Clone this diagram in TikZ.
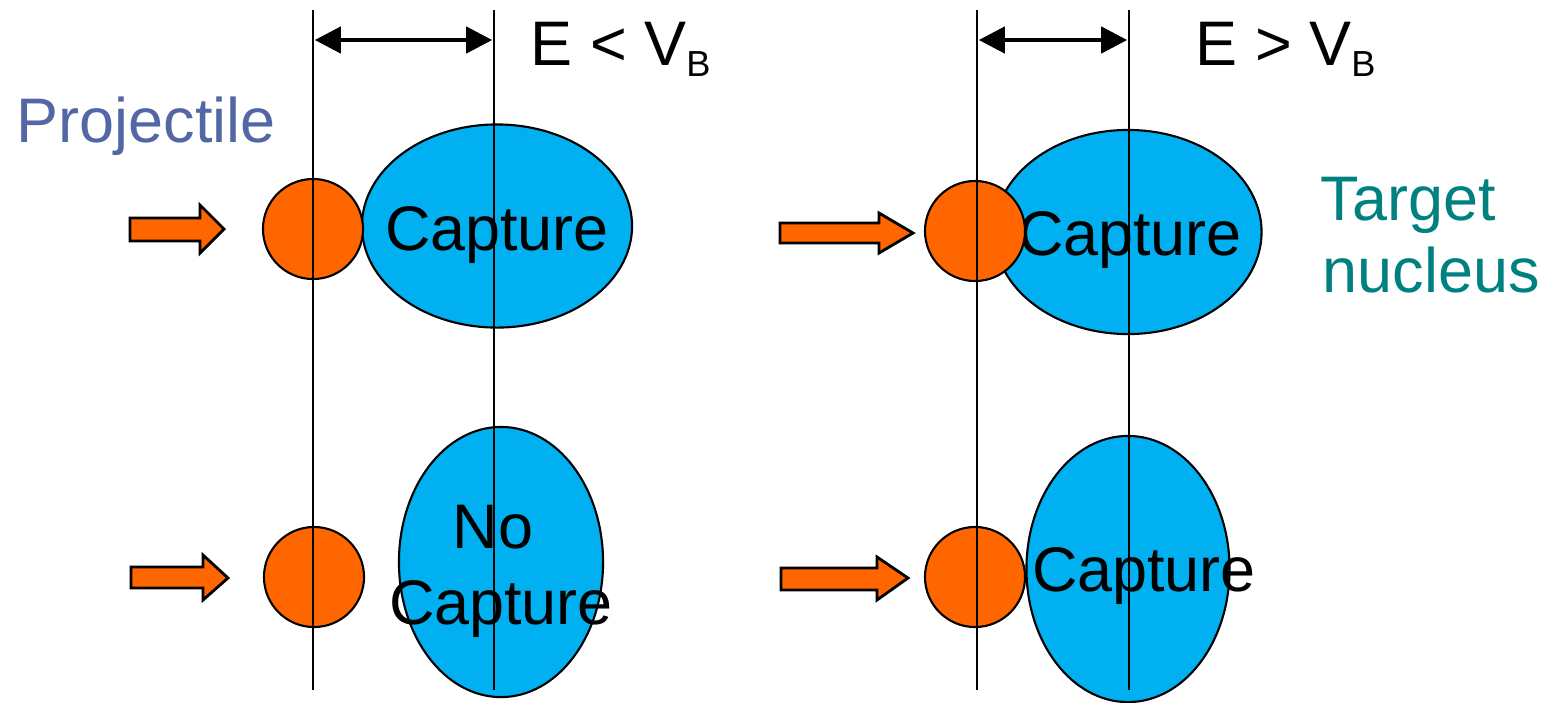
\documentclass[tikz,border=0pt]{standalone}
\usepackage{fontspec}
\setmainfont{Liberation Sans}
\usetikzlibrary{shapes.geometric,arrows.meta}
\definecolor{orng}{RGB}{255,102,0}
\definecolor{cyanb}{RGB}{0,176,240}
\definecolor{projcol}{RGB}{83,102,166}
\definecolor{tealc}{RGB}{0,128,128}
\tikzset{
  proj/.style={circle,draw=black,line width=0.6pt,fill=orng,minimum size=1.0cm,inner sep=0pt},
  nuc/.style={ellipse,draw=black,line width=0.6pt,fill=cyanb,inner sep=0pt},
  blockarrow/.style={draw=black,line width=0.8pt,fill=orng,line join=miter},
  vline/.style={draw=black,line width=0.6pt},
  dimarrow/.style={draw=black,line width=1.2pt,{Triangle[length=0.26cm,width=0.26cm]}-{Triangle[length=0.26cm,width=0.26cm]},shorten <=0.5pt,shorten >=0.5pt},
  lbl/.style={inner sep=0pt,anchor=base,font=\fontsize{17.9}{21.5}\selectfont},
  lblw/.style={inner sep=0pt,anchor=base west,font=\fontsize{17.9}{21.5}\selectfont}
}
\begin{document}
\begin{tikzpicture}[x=0.01cm,y=-0.01cm]
\useasboundingbox (0,0) rectangle (1546,702);
% nuclei
\node[nuc,minimum width=2.70cm,minimum height=2.03cm] (n1) at (497,226) {};
\node[nuc,minimum width=2.67cm,minimum height=2.04cm] (n2) at (1128,232) {};
\node[nuc,minimum width=2.04cm,minimum height=2.70cm] (n3) at (501,562) {};
\node[nuc,minimum width=2.03cm,minimum height=2.66cm] (n4) at (1128,569) {};
% nucleus labels
\node[lbl] (t1) at (497,250) {Capture};
\node[lbl] (t2) at (1130,255) {Capture};
\node[lbl] (t3a) at (493,548) {No};
\node[lbl] (t3b) at (501,624) {Capture};
\node[lbl] (t4) at (1144,591) {Capture};
% projectiles
\node[proj] (p1) at (313,229) {};
\node[proj] (p2) at (975,231) {};
\node[proj] (p3) at (314,577) {};
\node[proj] (p4) at (975,577) {};
% block arrows
\draw[blockarrow] (130,218) -- (200,218) -- (200,205) -- (224,229) -- (200,253) -- (200,241) -- (130,241) -- cycle;
\draw[blockarrow] (780,223) -- (879,223) -- (879,213) -- (913,233) -- (879,253) -- (879,243) -- (780,243) -- cycle;
\draw[blockarrow] (131,567) -- (203,567) -- (203,555) -- (228,578) -- (203,600) -- (203,588) -- (131,588) -- cycle;
\draw[blockarrow] (781,568) -- (877,568) -- (877,557) -- (908,578) -- (877,600) -- (877,590) -- (781,590) -- cycle;
% vertical lines
\coordinate (a1) at (313,10); \coordinate (a2) at (313,690);
\coordinate (b1) at (494,10); \coordinate (b2) at (494,690);
\coordinate (c1) at (977,10); \coordinate (c2) at (977,690);
\coordinate (d1) at (1129,10); \coordinate (d2) at (1129,690);
\draw[vline] (a1) -- (a2);
\draw[vline] (b1) -- (b2);
\draw[vline] (c1) -- (c2);
\draw[vline] (d1) -- (d2);
% dimension arrows
\coordinate (e1) at (313,40); \coordinate (e2) at (494,40);
\coordinate (f1) at (977,40); \coordinate (f2) at (1129,40);
\draw[dimarrow] (e1) -- (e2);
\draw[dimarrow] (f1) -- (f2);
\node[lblw] (el) at (530,65) {E < V\raisebox{-0.19em}{\fontsize{10.3}{12}\selectfont B}};
\node[lblw] (eg) at (1195,65) {E > V\raisebox{-0.19em}{\fontsize{10.3}{12}\selectfont B}};
% side labels
\node[lblw,text=projcol] (proj) at (16,142) {Projectile};
\node[lblw,text=tealc] (tg1) at (1320,220) {Target};
\node[lblw,text=tealc] (tg2) at (1322,292) {nucleus};
\end{tikzpicture}
\end{document}
